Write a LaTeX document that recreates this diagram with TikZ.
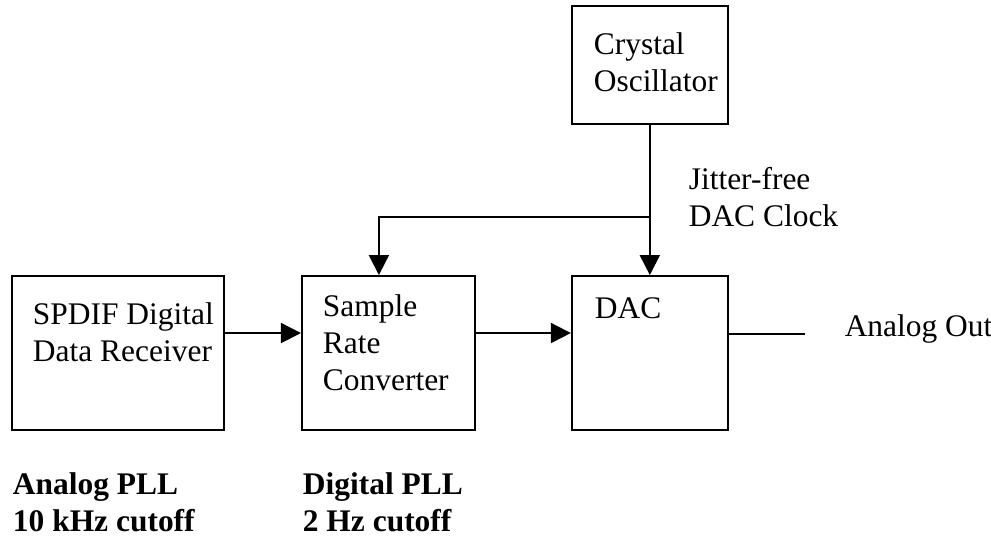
\documentclass[tikz,border=0pt]{standalone}
\usepackage{fontspec}
\setmainfont{Liberation Serif}
\usetikzlibrary{positioning, arrows.meta}

\begin{document}
\begin{tikzpicture}[
    line width=1.1pt,
    font=\fontsize{17.9}{21}\selectfont,
    block/.style={draw, rectangle, inner sep=0pt, minimum width=3.12cm, minimum height=3.08cm},
    txt/.style={align=left, inner sep=0pt},
    note/.style={align=left, inner sep=0pt, font=\fontsize{17.9}{21}\selectfont\bfseries},
    arr/.style={-{Triangle[length=0.4cm, width=0.4cm]}}
  ]
  \useasboundingbox (0,0) rectangle (19.82,10.74);
  % blocks
  \node [block, minimum width=4.24cm, anchor=south west] (spdif) at (0.22,2.12) {};
  \node [block, minimum width=3.46cm, right=1.52cm of spdif] (src) {};
  \node [block, right=1.9cm of src] (dac) {};
  \node [block, minimum height=2.36cm, above=3.0cm of dac] (xtal) {};
  % block texts
  \node [txt, below right=0.53cm and 0.42cm of spdif.north west] (spdiftxt) {SPDIF Digital\\Data Receiver};
  \node [txt, below right=0.37cm and 0.42cm of src.north west] (srctxt) {Sample\\Rate\\Converter};
  \node [txt, below right=0.44cm and 0.46cm of dac.north west] (dactxt) {DAC};
  \node [txt, below right=0.53cm and 0.44cm of xtal.north west] (xtaltxt) {Crystal\\Oscillator};
  % clock tap and output end
  \coordinate [below=1.84cm of xtal.south] (tap);
  \coordinate [right=1.52cm of dac.east, yshift=0.38cm] (outend);
  \node [txt, above right=1.01cm and 0.76cm of tap, anchor=north west] (clk) {Jitter-free\\DAC Clock};
  \node [txt, anchor=base west] (out) at ([xshift=0.78cm, yshift=-0.04cm]outend) {Analog Out};
  % PLL notes
  \node [note, below right=0.81cm and 0.02cm of spdif.south west] (apll) {Analog PLL\\10 kHz cutoff};
  \node [note, below right=0.81cm and 0.02cm of src.south west] (dpll) {Digital PLL\\2 Hz cutoff};
  % connections
  \draw [arr] ([yshift=0.4cm]spdif.east) -- ([yshift=0.4cm]src.west);
  \draw [arr] ([yshift=0.4cm]src.east) -- ([yshift=0.4cm]dac.west);
  \draw [arr] (xtal.south) -- (dac.north);
  \draw [arr] (tap) -| ([xshift=-0.19cm]src.north);
  \draw ([yshift=0.38cm]dac.east) -- (outend);
\end{tikzpicture}
\end{document}
